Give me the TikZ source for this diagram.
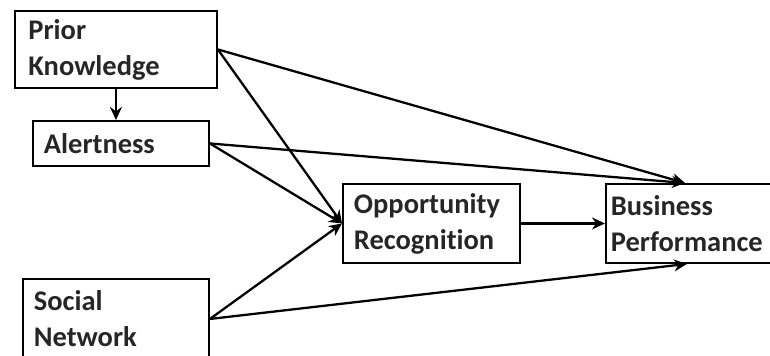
\documentclass[tikz,border=0pt]{standalone}
\usepackage{fontspec}
\setmainfont{Carlito}[Ligatures=NoCommon]
\usetikzlibrary{arrows.meta,positioning,calc}

\begin{document}
\begin{tikzpicture}[
  x=0.02cm, y=-0.02cm,
  factor/.style={
    rectangle, draw=black, line width=1.1pt, fill=white, text=black!85,
    align=left, font=\fontsize{16.2}{20.5}\selectfont\bfseries,
    anchor=north west, inner sep=0pt
  },
  arr/.style={-{Stealth[length=2.6mm,width=2.4mm]}, line width=1.3pt}
]
\useasboundingbox (0,0) rectangle (770,355);

% constructs
\node[factor, minimum width=4.04cm, minimum height=1.54cm, text width=3.5cm] (pk) at (14,10) {Prior\\Knowledge};
\node[factor, minimum width=3.52cm, minimum height=0.90cm, text width=3.08cm] (al) at (32,120) {Alertness};
\node[factor, minimum width=3.72cm, minimum height=1.60cm, text width=3.28cm] (sn) at (22,278) {Social\\Network};
\node[factor, minimum width=3.54cm, minimum height=1.58cm, text width=3.1cm] (or) at (342,183) {Opportunity\\Recognition};
\node[factor, minimum width=3.50cm, minimum height=1.58cm, text width=3.3cm] (bp) at (605,183) {Business\\Performance};

\coordinate (bptop) at ($(bp.north west)+(80,0)$);
\coordinate (bpbot) at ($(bp.south west)+(82,0)$);

% paths
\draw[arr] (pk.south) -- (al.north -| pk.south);
\draw[arr] (pk.east) -- (bptop);
\draw[arr] (al.east) -- (bptop);
\foreach \a in {pk, al, sn}
  \draw[arr] (\a.east) -- (or.west);
\draw[arr] (sn.east) -- (bpbot);
\draw[arr] (or.east) -- (bp.west);

\end{tikzpicture}
\end{document}
